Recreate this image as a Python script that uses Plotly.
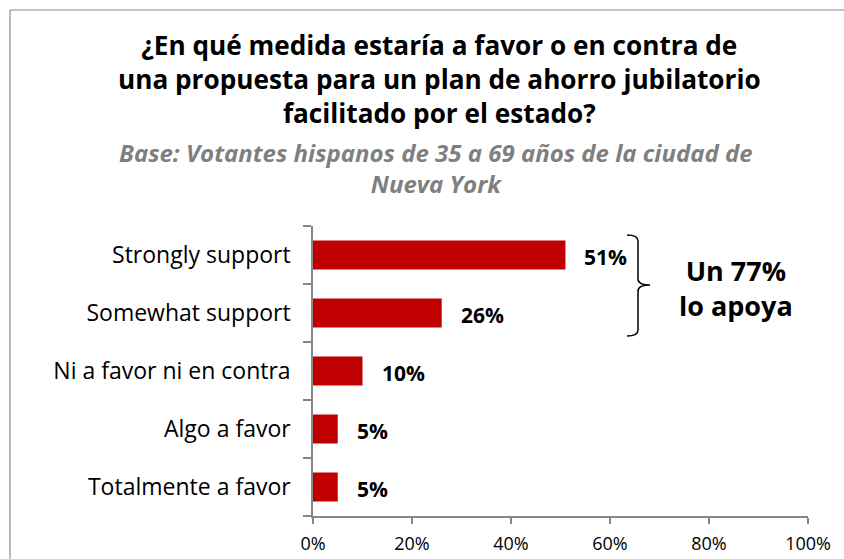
import plotly.graph_objects as go

categories = ["Strongly support", "Somewhat support", "Ni a favor ni en contra", "Algo a favor", "Totalmente a favor"]
values = [51, 26, 10, 5, 5]
labels = ["51%", "26%", "10%", "5%", "5%"]
tick_vals = [0, 20, 40, 60, 80, 100]
tick_text = ["0%", "20%", "40%", "60%", "80%", "100%"]
title_lines = ["¿En qué medida estaría a favor o en contra de",
               "una propuesta para un plan de ahorro jubilatorio",
               "facilitado por el estado?"]
subtitle_lines = ["Base: Votantes hispanos de 35 a 69 años de la ciudad de",
                  "Nueva York"]
callout_lines = ["Un 77%", "lo apoya"]

W, H = 844, 559
L, R, T, B = 313, 36, 226, 43
PW, PH = W - L - R, H - T - B
FONT = "Open Sans"

def px(x):
    return (x - L) / PW

def py(y):
    return (H - B - y) / PH

fig = go.Figure(go.Bar(
    x=values, y=categories, orientation="h",
    marker=dict(color="#C00000", line=dict(width=0)),
    width=0.5, hoverinfo="skip",
))

ann = []
for c, v, t in zip(categories, values, labels):
    ann.append(dict(x=v, y=c, xref="x", yref="y", text="<b>%s</b>" % t,
                    showarrow=False, xanchor="left", yanchor="middle", xshift=17, yshift=-2,
                    font=dict(family=FONT, size=21, color="#000000")))

ann.append(dict(x=px(439), y=py(79), xref="paper", yref="paper",
                text="<br>".join("<b>%s</b>" % s for s in title_lines),
                showarrow=False, xanchor="center", yanchor="middle", align="center",
                font=dict(family=FONT, size=26.2, color="#000000")))
ann.append(dict(x=px(436), y=py(168), xref="paper", yref="paper",
                text="<br>".join("<b><i>%s</i></b>" % s for s in subtitle_lines),
                showarrow=False, xanchor="center", yanchor="middle", align="center",
                font=dict(family=FONT, size=24, color="#7F7F7F")))
ann.append(dict(x=px(736), y=py(288), xref="paper", yref="paper",
                text="<br>".join("<b>%s</b>" % s for s in callout_lines),
                showarrow=False, xanchor="center", yanchor="middle", align="center",
                font=dict(family=FONT, size=27, color="#000000")))

# curly brace
xl, xs, xt = px(627), px(638), px(650)
yt, ym, yb = py(235), py(285), py(336)
r = 6 / PH
brace = (f"M {xl} {yt} Q {xs} {yt} {xs} {yt - r} "
         f"L {xs} {ym + r} Q {xs} {ym} {xt} {ym} "
         f"Q {xs} {ym} {xs} {ym - r} "
         f"L {xs} {yb + r} Q {xs} {yb} {xl} {yb}")

shapes = [
    dict(type="path", xref="paper", yref="paper", path=brace,
         line=dict(color="#000000", width=1.5)),
    dict(type="line", xref="paper", yref="paper", x0=px(10), x1=px(860), y0=py(10), y1=py(10),
         line=dict(color="#8C8C8C", width=1.2), layer="below"),
    dict(type="line", xref="paper", yref="paper", x0=px(10), x1=px(10), y0=py(10), y1=py(600),
         line=dict(color="#8C8C8C", width=1.2), layer="below"),
]

fig.update_layout(
    width=W, height=H,
    margin=dict(l=L, r=R, t=T, b=B, pad=0, autoexpand=False),
    paper_bgcolor="white", plot_bgcolor="white",
    showlegend=False,
    annotations=ann, shapes=shapes,
    font=dict(family=FONT, color="#000000"),
    xaxis=dict(range=[0, 100], tickvals=tick_vals, ticktext=tick_text, automargin=False,
               showgrid=False, zeroline=False, showline=True, linecolor="#868686", linewidth=1.5,
               ticks="outside", ticklen=6, tickcolor="#868686", tickwidth=1.5,
               tickfont=dict(family=FONT, size=18, color="#000000"), ticklabelstandoff=5,
               fixedrange=True),
    yaxis=dict(categoryorder="array", categoryarray=categories[::-1], autorange=True, automargin=False,
               showgrid=False, zeroline=False, showline=True, linecolor="#868686", linewidth=1.5,
               ticks="outside", ticklen=8, tickcolor="#868686", tickwidth=1.5, tickson="boundaries",
               tickfont=dict(family=FONT, size=23, color="#000000"), ticklabelstandoff=16,
               fixedrange=True),
)

fig.write_html("out.html", config={"displayModeBar": False})
